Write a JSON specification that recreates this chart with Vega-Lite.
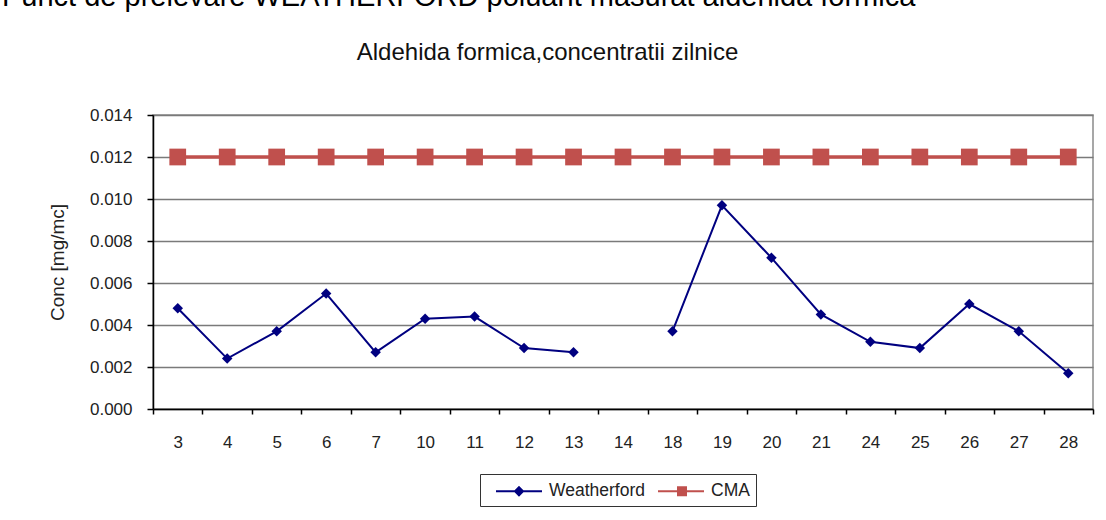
{
  "$schema": "https://vega.github.io/schema/vega-lite/v6.json",
  "width": 940,
  "height": 294,
  "autosize": {"type": "none"},
  "padding": {"left": 153, "top": 115, "right": 13, "bottom": 111},
  "background": "white",
  "title": {
    "text": "Punct de prelevare WEATHERFORD poluant masurat aldehida formica",
    "anchor": "start",
    "frame": "group",
    "fontSize": 29,
    "fontWeight": "normal",
    "font": "Liberation Sans",
    "color": "#000000",
    "baseline": "alphabetic",
    "dx": -151,
    "offset": 5
  },
  "config": {
    "font": "Liberation Sans",
    "view": {"stroke": "#8a8a8a", "strokeWidth": 1.5}
  },
  "data": {
    "values": [
      {"day": 3, "series": "Weatherford", "conc": 0.0048},
      {"day": 4, "series": "Weatherford", "conc": 0.0024},
      {"day": 5, "series": "Weatherford", "conc": 0.0037},
      {"day": 6, "series": "Weatherford", "conc": 0.0055},
      {"day": 7, "series": "Weatherford", "conc": 0.0027},
      {"day": 10, "series": "Weatherford", "conc": 0.0043},
      {"day": 11, "series": "Weatherford", "conc": 0.0044},
      {"day": 12, "series": "Weatherford", "conc": 0.0029},
      {"day": 13, "series": "Weatherford", "conc": 0.0027},
      {"day": 14, "series": "Weatherford", "conc": null},
      {"day": 18, "series": "Weatherford", "conc": 0.0037},
      {"day": 19, "series": "Weatherford", "conc": 0.0097},
      {"day": 20, "series": "Weatherford", "conc": 0.0072},
      {"day": 21, "series": "Weatherford", "conc": 0.0045},
      {"day": 24, "series": "Weatherford", "conc": 0.0032},
      {"day": 25, "series": "Weatherford", "conc": 0.0029},
      {"day": 26, "series": "Weatherford", "conc": 0.0050},
      {"day": 27, "series": "Weatherford", "conc": 0.0037},
      {"day": 28, "series": "Weatherford", "conc": 0.0017},
      {"day": 3, "series": "CMA", "conc": 0.012},
      {"day": 4, "series": "CMA", "conc": 0.012},
      {"day": 5, "series": "CMA", "conc": 0.012},
      {"day": 6, "series": "CMA", "conc": 0.012},
      {"day": 7, "series": "CMA", "conc": 0.012},
      {"day": 10, "series": "CMA", "conc": 0.012},
      {"day": 11, "series": "CMA", "conc": 0.012},
      {"day": 12, "series": "CMA", "conc": 0.012},
      {"day": 13, "series": "CMA", "conc": 0.012},
      {"day": 14, "series": "CMA", "conc": 0.012},
      {"day": 18, "series": "CMA", "conc": 0.012},
      {"day": 19, "series": "CMA", "conc": 0.012},
      {"day": 20, "series": "CMA", "conc": 0.012},
      {"day": 21, "series": "CMA", "conc": 0.012},
      {"day": 24, "series": "CMA", "conc": 0.012},
      {"day": 25, "series": "CMA", "conc": 0.012},
      {"day": 26, "series": "CMA", "conc": 0.012},
      {"day": 27, "series": "CMA", "conc": 0.012},
      {"day": 28, "series": "CMA", "conc": 0.012}
    ]
  },
  "resolve": {"axis": {"x": "independent"}},
  "layer": [
    {
      "transform": [{"filter": "datum.series === 'CMA'"}],
      "mark": {
        "type": "line",
        "strokeWidth": 3.5,
        "point": {"shape": "square", "size": 280, "filled": true, "opacity": 1}
      },
      "encoding": {
        "x": {
          "field": "day",
          "type": "ordinal",
          "bandPosition": 0.5,
          "scale": {"type": "band", "paddingInner": 0, "paddingOuter": 0},
          "axis": {
            "title": null,
            "labelAngle": 0,
            "labelFontSize": 17,
            "labelColor": "#222222",
            "labelPadding": 20,
            "tickBand": "extent",
            "tickSize": 5,
            "tickColor": "#000000",
            "tickWidth": 1.5,
            "domainColor": "#000000",
            "domainWidth": 1.5,
            "grid": false
          }
        },
        "y": {
          "field": "conc",
          "type": "quantitative",
          "scale": {"domain": [0, 0.014], "nice": false, "zero": true},
          "axis": {
            "title": "Conc [mg/mc]",
            "titleFontSize": 19,
            "titleFontWeight": "normal",
            "titleColor": "#222222",
            "titleX": -96,
            "titleY": 147,
            "titleBaseline": "middle",
            "titleAlign": "center",
            "values": [0, 0.002, 0.004, 0.006, 0.008, 0.01, 0.012, 0.014],
            "format": ".3f",
            "labelFontSize": 17,
            "labelColor": "#222222",
            "labelPadding": 15,
            "tickSize": 6,
            "tickColor": "#000000",
            "tickWidth": 1.5,
            "domainColor": "#000000",
            "domainWidth": 1.5,
            "grid": true,
            "gridColor": "#7a7a7a",
            "gridWidth": 1.5
          }
        },
        "color": {
          "field": "series",
          "type": "nominal",
          "scale": {"domain": ["Weatherford", "CMA"], "range": ["#000080", "#c0504d"]},
          "legend": {
            "title": null,
            "orient": "none",
            "legendX": 327,
            "legendY": 359,
            "direction": "horizontal",
            "strokeColor": "#333333",
            "fillColor": "#ffffff",
            "padding": 6,
            "labelFontSize": 17.5,
            "labelColor": "#222222",
            "labelOffset": 41,
            "columnPadding": 3,
            "symbolSize": 400,
            "symbolStrokeWidth": 2,
            "encode": {
              "symbols": {
                "update": {
                  "shape": {"signal": "datum.value === 'CMA' ? 'M-0.1,0H4.5M1.9,-0.4H2.7V0.4H1.9Z' : 'M-0.1,0H4.5M2.2,-0.4L2.6,0L2.2,0.4L1.8,0Z'"},
                  "fill": {"signal": "datum.value === 'CMA' ? '#c0504d' : '#000080'"},
                  "stroke": {"signal": "datum.value === 'CMA' ? '#c0504d' : '#000080'"},
                  "fillOpacity": {"value": 1},
                  "opacity": {"value": 1}
                }
              }
            }
          }
        }
      }
    },
    {
      "transform": [{"filter": "datum.series === 'Weatherford'"}],
      "mark": {
        "type": "line",
        "strokeWidth": 2,
        "invalid": "break-paths-show-domains",
        "point": {"shape": "diamond", "size": 110, "filled": true, "opacity": 1}
      },
      "encoding": {
        "x": {
          "field": "day",
          "type": "ordinal",
          "bandPosition": 0.5,
          "scale": {"type": "band", "paddingInner": 0, "paddingOuter": 0},
          "axis": {
            "orient": "top",
            "title": "Aldehida formica,concentratii zilnice",
            "titleFontSize": 24,
            "titleFontWeight": "normal",
            "titleColor": "#111111",
            "titleX": 394,
            "titleY": -56,
            "titleAlign": "center",
            "titleBaseline": "alphabetic",
            "titleLimit": 2000,
            "labels": false,
            "ticks": false,
            "domain": false,
            "grid": false
          }
        },
        "y": {"field": "conc", "type": "quantitative"},
        "color": {"field": "series", "type": "nominal"}
      }
    }
  ]
}
